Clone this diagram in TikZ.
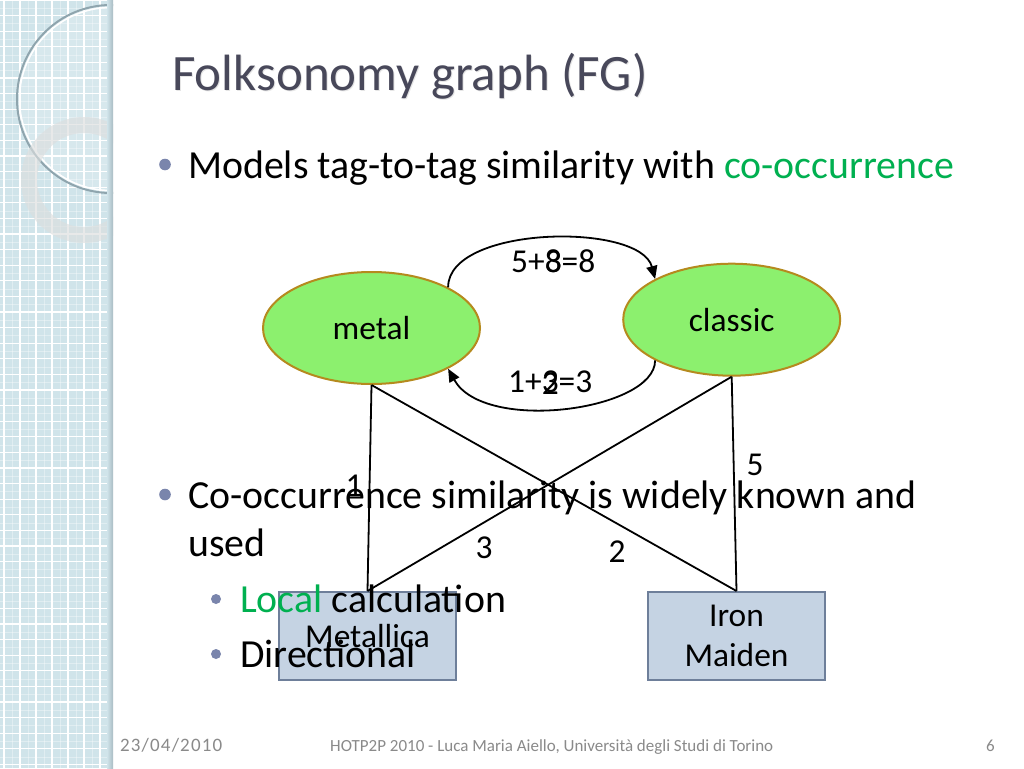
\documentclass[tikz,border=0pt]{standalone}
\usepackage{fontspec}
\setmainfont{Carlito}
\usetikzlibrary{shapes.geometric,arrows.meta}
\definecolor{strip}{HTML}{D0E4EA}
\definecolor{stripedge}{HTML}{A9BCC3}
\definecolor{ringone}{HTML}{8FA5AE}
\definecolor{ringtwo}{HTML}{DCDEDE}
\definecolor{titlec}{HTML}{48485A}
\definecolor{bulletc}{HTML}{7A85AC}
\definecolor{greenc}{HTML}{00B050}
\definecolor{tagfill}{HTML}{8CF06E}
\definecolor{tagborder}{HTML}{B58A1E}
\definecolor{resfill}{HTML}{C5D3E3}
\definecolor{resborder}{HTML}{6E7F9A}
\definecolor{footc}{HTML}{8A8A8A}
\newcommand\tfont{\fontsize{51}{61}\selectfont}
\newcommand\bfont{\fontsize{39.8}{47.5}\selectfont}
\newcommand\dfont{\fontsize{33.4}{40}\selectfont}
\newcommand\ffont{\fontsize{17}{20}\selectfont}
\tikzset{
  tag/.style={ellipse, draw=tagborder, fill=tagfill, line width=2pt,
    minimum width=217pt, minimum height=112pt, inner sep=0pt, font=\dfont},
  res/.style={rectangle, draw=resborder, fill=resfill, line width=2pt,
    minimum width=177pt, minimum height=88pt, inner sep=0pt, font=\dfont, align=center},
  link/.style={line width=1.8pt, draw=black},
  arr/.style={line width=1.8pt, draw=black, -{Triangle[length=13pt,width=11pt]}},
  lbl/.style={font=\dfont, inner sep=0pt},
  body/.style={font=\bfont, inner sep=0pt, anchor=base west},
  foot/.style={font=\ffont, text=footc, inner sep=0pt},
}
\begin{document}
\begin{tikzpicture}[x=1pt,y=-1pt]
\useasboundingbox (0,0) rectangle (1024,768);
\fill[white] (0,0) rectangle (1024,768);
% left strip
\fill[strip] (0,0) rectangle (113,768);
\foreach \x in {12,28,...,108} \draw[white,opacity=0.35,line width=0.5pt] (\x,0) -- (\x,768);
\foreach \y in {8,23.6,...,768} \draw[white,opacity=0.35,line width=0.5pt] (0,\y) -- (113,\y);
\foreach \x in {4,20,...,112} \draw[white,line width=1.3pt] (\x,0) -- (\x,768);
\foreach \y in {0,15.6,...,768} \draw[white,line width=1.3pt] (0,\y) -- (113,\y);
\begin{scope}
  \clip (0,0) rectangle (113,768);
  \fill[white,opacity=0.15] (111,99) circle[radius=94pt];
  \draw[ringone,line width=2pt] (111,99) circle[radius=94pt];
  \draw[white,line width=1.5pt] (111,99) circle[radius=91.5pt];
  \fill[ringtwo,opacity=0.65,even odd rule] (84,180) circle[radius=63pt] (84,180) circle[radius=47pt];
\end{scope}
\shade[left color=strip, right color=stripedge] (107,0) rectangle (113,768);
% title
\node[font=\tfont, text=gray!20, inner sep=0pt, anchor=base west] (titleshadow) at (173,91) {Folksonomy graph (FG)};
\node[font=\tfont, text=titlec, inner sep=0pt, anchor=base west] (title) at (172,90) {Folksonomy graph (FG)};
% diagram
\node[tag] (metal) at (371.5,328) {metal};
\node[tag] (classic) at (731.7,319.7) {classic};
\node[res] (metallica) at (367.5,636) {Metallica};
\node[res] (ironmaiden) at (736.5,636) {Iron\\Maiden};
\draw[link] (metal.south) -- (metallica.north);
\draw[link] (metal.south) -- (ironmaiden.north);
\draw[link] (classic.south) -- (metallica.north);
\draw[link] (classic.south) -- (ironmaiden.north);
\draw[arr] (metal.28) .. controls +(0,-62) and +(-15,-57) .. (classic.152);
\draw[arr] (classic.208) .. controls +(0,50) and +(36,65) .. (metal.-28);
\node[lbl, anchor=base west] (topsum) at (511,272) {5+\rlap{3}8=8};
\node[lbl, anchor=base west] (botsum) at (508,392) {1+\rlap{3}\raisebox{-2.5pt}{2}=3};
\node[lbl, anchor=base] (wone) at (354,496.5) {1};
\node[lbl, anchor=base] (wfive) at (755,475.5) {5};
\node[lbl, anchor=base] (wthree) at (484,558.5) {3};
\node[lbl, anchor=base] (wtwo) at (617,562.5) {2};
% body text
\fill[bulletc] (165,164.5) circle[radius=5.8pt];
\node[body] (line1) at (188,178) {Models tag-to-tag similarity with \textcolor{greenc}{co-occurrence}};
\fill[bulletc] (165,494.5) circle[radius=5.8pt];
\node[body] (line2) at (188,508) {Co-occurrence similarity is widely known and};
\node[body] (line3) at (188,556) {used};
\fill[bulletc] (216,599) circle[radius=5pt];
\node[body] (line4) at (240,612) {\textcolor{greenc}{Local} calculation};
\fill[bulletc] (216,654) circle[radius=5pt];
\node[body] (line5) at (240,667) {Directional};
% footer
\node[foot, anchor=base west] (date) at (120,751) {\fontsize{19}{22}\selectfont\addfontfeature{LetterSpace=6}23/04/2010};
\node[foot, anchor=base west] (conf) at (330,751) {HOTP2P 2010 - Luca Maria Aiello, Università degli Studi di Torino};
\node[foot, anchor=base east] (page) at (995,751) {6};
\end{tikzpicture}
\end{document}
